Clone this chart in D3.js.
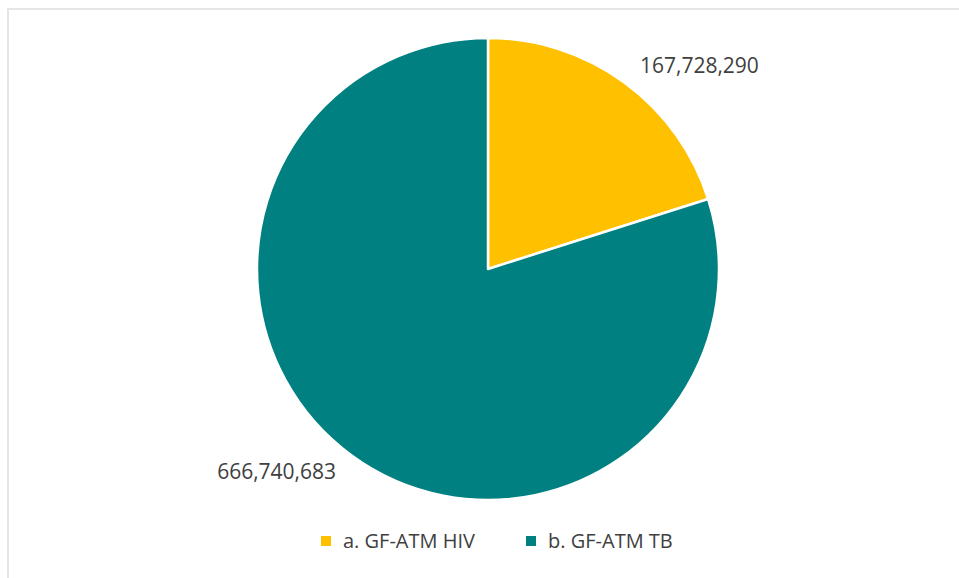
<!DOCTYPE html>
<html>
<head>
<meta charset="utf-8">
<script src="https://cdn.jsdelivr.net/npm/d3@7"></script>
<style>
  body { margin: 0; background: #fff; }
  text { font-family: "Open Sans", sans-serif; fill: #404040; }
</style>
</head>
<body>
<div id="chart"></div>
<script>
const categories = ["a. GF-ATM HIV", "b. GF-ATM TB"];
const values = [167728290, 666740683];
const colors = ["#FFC000", "#008080"];

const width = 959;
const height = 578;
const cx = 488;
const cy = 269;
const radius = 231;

const svg = d3
  .select("#chart")
  .append("svg")
  .attr("width", width)
  .attr("height", height);

// chart area frame (only top and left edges are in view)
svg
  .append("path")
  .attr("d", `M8,${height} L8,9 L${width},9`)
  .attr("fill", "none")
  .attr("stroke", "#e6e6e6")
  .attr("stroke-width", 2);

const pie = d3.pie().sort(null)(values);
const arc = d3.arc().innerRadius(0).outerRadius(radius);

const g = svg.append("g").attr("transform", `translate(${cx},${cy})`);

g.selectAll("path.slice")
  .data(pie)
  .enter()
  .append("path")
  .attr("class", "slice")
  .attr("d", arc)
  .attr("fill", (d, i) => colors[i])
  .attr("stroke", "#fff")
  .attr("stroke-width", 2.5)
  .attr("stroke-linejoin", "round");

// data labels, outside end
const labelR = 293;
const shift = (10 * Math.PI) / 180;
const fmt = d3.format(",");
g.selectAll("text.label")
  .data(pie)
  .enter()
  .append("text")
  .attr("class", "label")
  .attr("x", (d) => labelR * Math.sin((d.startAngle + d.endAngle) / 2 + shift))
  .attr("y", (d) => -labelR * Math.cos((d.startAngle + d.endAngle) / 2 + shift))
  .attr("dy", "0.35em")
  .attr("text-anchor", "middle")
  .style("font-size", "21px")
  .text((d) => fmt(d.value));

// legend
const legendX = d3.scaleOrdinal().domain(categories).range([321, 526]);
const legend = svg
  .append("g")
  .selectAll("g")
  .data(categories)
  .enter()
  .append("g")
  .attr("transform", (d) => `translate(${legendX(d)},541)`);

legend
  .append("rect")
  .attr("x", 0)
  .attr("y", -5)
  .attr("width", 10)
  .attr("height", 10)
  .attr("fill", (d, i) => colors[i]);

legend
  .append("text")
  .attr("x", 22)
  .attr("y", 0)
  .attr("dy", "0.35em")
  .style("font-size", "20px")
  .text((d) => d);
</script>
</body>
</html>
